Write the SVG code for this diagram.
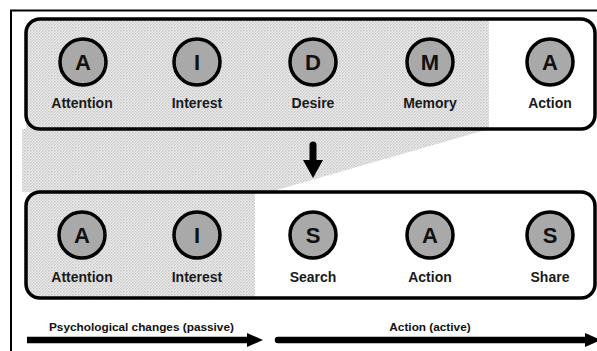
<svg xmlns="http://www.w3.org/2000/svg" width="597" height="351" viewBox="0 0 597 351">
  <defs>
    <!-- fine halftone used for the "passive" stages -->
    <pattern id="dots" width="3" height="3" patternUnits="userSpaceOnUse">
      <rect width="3" height="3" fill="#eeeeee"/>
      <rect x="0" y="0" width="1.5" height="1.5" fill="#c4c4c4"/>
      <rect x="1.5" y="1.5" width="1.5" height="1.5" fill="#d0d0d0"/>
    </pattern>
    <style>
      .frame { fill: none; stroke: #000; stroke-width: 2; }
      .box { fill: none; stroke: #000; stroke-width: 3.5; }
      .stage circle { fill: #a9a9a9; stroke: #000; stroke-width: 3.5; }
      .letter { font-family: "Liberation Sans", Arial, sans-serif; font-weight: bold; font-size: 22px; text-anchor: middle; fill: #111; }
      .label { font-family: "Liberation Sans", Arial, sans-serif; font-weight: bold; font-size: 14px; text-anchor: middle; fill: #1a1a1a; }
      .caption { font-family: "Liberation Sans", Arial, sans-serif; font-weight: bold; font-size: 11.8px; fill: #111; }
      .flow { stroke: #000; stroke-width: 6.5; fill: none; }
    </style>
  </defs>

  <rect width="597" height="351" fill="#fff"/>

  <!-- shaded areas -->
  <g id="shading" fill="url(#dots)">
    <path d="M40 19 H489 V129 H26 V33 Q26 19 40 19 Z"/>
    <path d="M22 129 H489 L270 192 H22 Z"/>
    <path d="M40 192 H255 V298 H40 Q26 298 26 284 V206 Q26 192 40 192 Z"/>
  </g>

  <!-- outer frame -->
  <rect class="frame" x="11" y="10.5" width="600" height="360"/>

  <!-- stage containers -->
  <rect id="aidma" class="box" x="26" y="19" width="569" height="110" rx="14"/>
  <rect id="aisas" class="box" x="26" y="192" width="569" height="106" rx="14"/>

  <!-- AIDMA row -->
  <g id="aidma-attention" class="stage">
    <circle cx="83" cy="62" r="23"/>
    <text class="letter" x="83" y="70">A</text>
    <text class="label" x="82" y="108">Attention</text>
  </g>
  <g id="aidma-interest" class="stage">
    <circle cx="197" cy="62" r="23"/>
    <text class="letter" x="197" y="70">I</text>
    <text class="label" x="197" y="108">Interest</text>
  </g>
  <g id="aidma-desire" class="stage">
    <circle cx="313" cy="62" r="23"/>
    <text class="letter" x="313" y="70">D</text>
    <text class="label" x="313" y="108">Desire</text>
  </g>
  <g id="aidma-memory" class="stage">
    <circle cx="430" cy="62" r="23"/>
    <text class="letter" x="430" y="70">M</text>
    <text class="label" x="430" y="108">Memory</text>
  </g>
  <g id="aidma-action" class="stage">
    <circle cx="550" cy="62" r="23"/>
    <text class="letter" x="550" y="70">A</text>
    <text class="label" x="550" y="108">Action</text>
  </g>

  <!-- AISAS row -->
  <g id="aisas-attention" class="stage">
    <circle cx="82" cy="235" r="23"/>
    <text class="letter" x="82" y="243">A</text>
    <text class="label" x="82" y="282">Attention</text>
  </g>
  <g id="aisas-interest" class="stage">
    <circle cx="197" cy="235" r="23"/>
    <text class="letter" x="197" y="243">I</text>
    <text class="label" x="197" y="282">Interest</text>
  </g>
  <g id="aisas-search" class="stage">
    <circle cx="313" cy="235" r="23"/>
    <text class="letter" x="313" y="243">S</text>
    <text class="label" x="313" y="282">Search</text>
  </g>
  <g id="aisas-action" class="stage">
    <circle cx="430" cy="235" r="23"/>
    <text class="letter" x="430" y="243">A</text>
    <text class="label" x="430" y="282">Action</text>
  </g>
  <g id="aisas-share" class="stage">
    <circle cx="550" cy="235" r="23"/>
    <text class="letter" x="550" y="243">S</text>
    <text class="label" x="550" y="282">Share</text>
  </g>

  <!-- connectors -->
  <g id="connectors">
    <!-- transition arrow between the two models -->
    <line x1="313" y1="145" x2="313" y2="162" stroke="#000" stroke-width="7" stroke-linecap="round"/>
    <path d="M303 160 H323 L313 178 Z" fill="#000"/>

    <!-- passive / active phases -->
    <line class="flow" x1="27" y1="340" x2="250" y2="340"/>
    <path d="M247 333 L263 340 L247 347 Z" fill="#000"/>
    <line class="flow" x1="278" y1="340" x2="588" y2="340" stroke-linecap="round"/>
    <path d="M585 333 L601 340 L585 347 Z" fill="#000"/>
  </g>

  <text class="caption" x="49" y="331">Psychological changes (passive)</text>
  <text class="caption" x="430" y="331" text-anchor="middle">Action (active)</text>
</svg>
